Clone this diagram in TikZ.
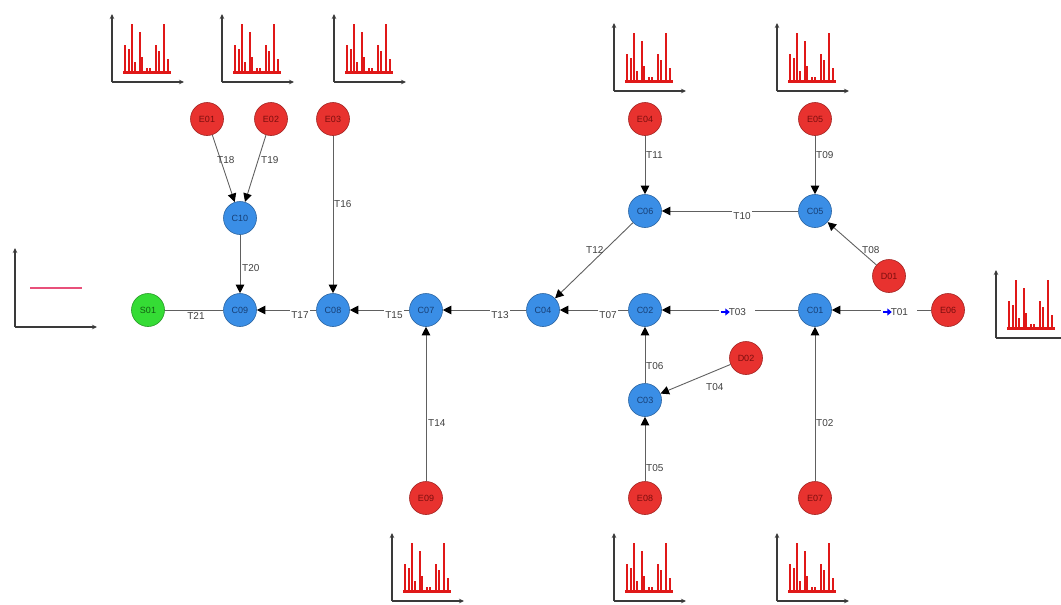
\documentclass[tikz,border=0pt]{standalone}
\usepackage{fontspec}
\setmainfont{Liberation Sans}
\usetikzlibrary{arrows.meta}
\definecolor{redfill}{HTML}{E8322F}
\definecolor{redtext}{HTML}{7A0E0E}
\definecolor{bluefill}{HTML}{3A8EE6}
\definecolor{bluetext}{HTML}{173F75}
\definecolor{greenfill}{HTML}{35DC35}
\definecolor{greentext}{HTML}{135C13}
\definecolor{edgegray}{HTML}{606060}
\definecolor{peakred}{HTML}{E01818}
\definecolor{axisgray}{HTML}{3A3A3A}
\definecolor{pinkline}{HTML}{E8507A}
\tikzset{
  x=1pt, y=-1pt,
  basenode/.style={circle, minimum size=33pt, inner sep=0pt, line width=0.6pt, font=\fontsize{9}{10}\selectfont},
  enode/.style={basenode, fill=redfill, draw=redfill!70!black, text=redtext},
  cnode/.style={basenode, fill=bluefill, draw=bluefill!70!black, text=bluetext},
  snode/.style={basenode, fill=greenfill, draw=greenfill!70!black, text=greentext},
  conn/.style={draw=edgegray, line width=0.9pt, -{Triangle[length=8.5pt,width=8.5pt,color=black]}},
  plain/.style={draw=edgegray, line width=0.9pt},
  vlab/.style={anchor=west, inner sep=1pt, text=black!75, font=\fontsize{10}{11}\selectfont},
  hlab/.style={fill=white, inner sep=1.5pt, text=black!75, font=\fontsize{10}{11}\selectfont},
  axisline/.style={draw=axisgray, line width=1.4pt, -{Stealth[length=5pt,width=4.5pt]}},
  peakline/.style={draw=peakred, line width=2.2pt},
  blueflow/.style={draw=blue, line width=2.2pt, -{Triangle[length=4.5pt,width=7pt]}},
}
\newcommand{\peakchart}[2]{%
  \begin{scope}[shift={(#1,#2)}]
    \fill[peakred] (11,-8.5) rectangle (59,-11.5);
    \foreach \px/\h in {13/27,17/23,20/48,23/10,28/40,30/15,35/4,38/4,44/27,47/21,52/48,56/13}
      \draw[peakline] (\px,-10) -- (\px,-10-\h);
    \draw[axisline] (0,0) -- (0,-68);
    \draw[axisline] (0,0) -- (72,0);
  \end{scope}}
\begin{document}
\begin{tikzpicture}
\useasboundingbox (0,0) rectangle (1061,605);
\begin{scope}
\clip (0,0) rectangle (1061,605);
% charts
\peakchart{112}{82}
\peakchart{222}{82}
\peakchart{334}{82}
\peakchart{614}{91}
\peakchart{777}{91}
\peakchart{996}{338}
\peakchart{392}{601}
\peakchart{614}{601}
\peakchart{777}{601}
% left chart
\draw[axisline] (15,327) -- (15,248);
\draw[axisline] (15,327) -- (97,327);
\draw[pinkline, line width=2pt] (30,288) -- (82,288);
\end{scope}

% nodes
\node[enode] (E01) at (207,119) {E01};
\node[enode] (E02) at (271,119) {E02};
\node[enode] (E03) at (333,119) {E03};
\node[enode] (E04) at (645,119) {E04};
\node[enode] (E05) at (815,119) {E05};
\node[cnode] (C10) at (240,218) {C10};
\node[cnode] (C06) at (645,211) {C06};
\node[cnode] (C05) at (815,211) {C05};
\node[enode] (D01) at (889,276) {D01};
\node[snode] (S01) at (148,310) {S01};
\node[cnode] (C09) at (240,310) {C09};
\node[cnode] (C08) at (333,310) {C08};
\node[cnode] (C07) at (426,310) {C07};
\node[cnode] (C04) at (543,310) {C04};
\node[cnode] (C02) at (645,310) {C02};
\node[cnode] (C01) at (815,310) {C01};
\node[enode] (E06) at (948,310) {E06};
\node[enode] (D02) at (746,358) {D02};
\node[cnode] (C03) at (645,400) {C03};
\node[enode] (E09) at (426,498) {E09};
\node[enode] (E08) at (645,498) {E08};
\node[enode] (E07) at (815,498) {E07};

% connectors
\draw[conn] (E01) -- (C10);
\draw[conn] (E02) -- (C10);
\draw[conn] (C10) -- (C09);
\draw[conn] (E03) -- (C08);
\draw[conn] (E04) -- (C06);
\draw[conn] (E05) -- (C05);
\draw[conn] (C05) -- (C06);
\draw[conn] (D01) -- (C05);
\draw[conn] (C06) -- (C04);
\draw[plain] (S01) -- (C09);
\draw[conn] (C08) -- (C09);
\draw[conn] (C07) -- (C08);
\draw[conn] (C04) -- (C07);
\draw[conn] (C02) -- (C04);
\draw[conn] (C01) -- (C02);
\draw[conn] (E06) -- (C01);
\draw[conn] (C03) -- (C02);
\draw[conn] (D02) -- (C03);
\draw[conn] (E08) -- (C03);
\draw[conn] (E09) -- (C07);
\draw[conn] (E07) -- (C01);

% labels
\node[vlab] (lT18) at (216,160) {T18};
\node[vlab] (lT19) at (260,160) {T19};
\node[vlab] (lT16) at (333,204) {T16};
\node[vlab] (lT11) at (645,155) {T11};
\node[vlab] (lT09) at (815,155) {T09};
\node[vlab] (lT20) at (241,268) {T20};
\node[vlab] (lT14) at (427,423) {T14};
\node[vlab] (lT02) at (815,423) {T02};
\node[vlab] (lT06) at (645,366) {T06};
\node[vlab] (lT05) at (645,468) {T05};
\node[vlab] (lT08) at (861,250) {T08};
\node[vlab] (lT12) at (585,250) {T12};
\node[vlab] (lT04) at (705,387) {T04};
\node[hlab] (lT10) at (742,216) {T10};
\node[hlab] (lT21) at (196,316) {T21};
\node[hlab] (lT17) at (300,315) {T17};
\node[hlab] (lT15) at (394,315) {T15};
\node[hlab] (lT13) at (500,315) {T13};
\node[hlab] (lT07) at (608,315) {T07};
\node[hlab, minimum width=36pt, text width=18pt, align=right] (lT03) at (737,312) {T03};
\node[hlab, minimum width=36pt, text width=18pt, align=right] (lT01) at (899,312) {T01};
\draw[blueflow] (lT03.west) ++(2,0) -- ++(9,0);
\draw[blueflow] (lT01.west) ++(2,0) -- ++(9,0);
\end{tikzpicture}
\end{document}
